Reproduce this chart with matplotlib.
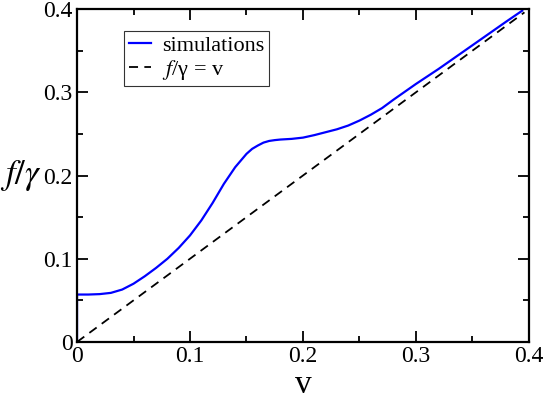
import numpy as np
import matplotlib.pyplot as plt

plt.rcParams['font.family'] = ['Liberation Serif', 'DejaVu Serif']
plt.rcParams['mathtext.fontset'] = 'stix'

# simulation curve
v_sim = [0, 0, 0.01, 0.02, 0.03, 0.04, 0.05, 0.06, 0.07, 0.08, 0.09, 0.10,
         0.11, 0.12, 0.13, 0.14, 0.15, 0.155, 0.16, 0.165, 0.17, 0.175, 0.18,
         0.19, 0.20, 0.21, 0.22, 0.23, 0.24, 0.25, 0.26, 0.27, 0.28, 0.30,
         0.32, 0.34, 0.36, 0.38, 0.394]
f_sim = [0, 0.057, 0.057, 0.0575, 0.059, 0.063, 0.070, 0.079, 0.089, 0.100,
         0.113, 0.128, 0.146, 0.167, 0.190, 0.210, 0.226, 0.232, 0.236, 0.2395,
         0.2415, 0.2425, 0.2432, 0.2440, 0.2455, 0.2485, 0.252, 0.2555, 0.260,
         0.266, 0.273, 0.281, 0.291, 0.310, 0.328, 0.347, 0.366, 0.385, 0.398]

# reference line f/gamma = v
v_ref = [0, 0.396]

fig = plt.figure(figsize=(5.45, 3.99), dpi=100)
ax = fig.add_axes([0.1413, 0.1429, 0.8293, 0.8345])

ax.plot(v_sim, f_sim, color='#0000ff', lw=1.6, label='simulations')
ax.plot(v_ref, v_ref, color='black', lw=1.3, ls=(0, (5, 3.5)),
        label=r'$f$/γ = v')

ax.set_xlim(0, 0.4)
ax.set_ylim(0, 0.4)
ticks = [0, 0.1, 0.2, 0.3, 0.4]
labels = ['0', '0.1', '0.2', '0.3', '0.4']
ax.set_xticks(ticks)
ax.set_xticklabels(labels)
ax.set_yticks(ticks)
ax.set_yticklabels(labels)
ax.set_xticks(np.arange(0.05, 0.4, 0.1), minor=True)
ax.set_yticks(np.arange(0.05, 0.4, 0.1), minor=True)
ax.tick_params(which='both', direction='in', top=True, right=True,
               labelsize=17, width=1.3)
ax.tick_params(which='major', length=8, pad=3)
ax.tick_params(which='minor', length=4)
for s in ax.spines.values():
    s.set_linewidth(1.6)

ax.set_xlabel('v', fontsize=24, labelpad=2)
ax.set_ylabel(r'$f/\gamma$', fontsize=25, rotation=0)
ax.yaxis.label.set_va('center')
ax.yaxis.set_label_coords(-0.125, 0.5)

leg = ax.legend(loc='upper left', bbox_to_anchor=(0.105, 0.935), fontsize=16,
                frameon=True, fancybox=False, edgecolor='black',
                handlelength=1.0, handletextpad=0.5, borderpad=0.2,
                labelspacing=0.1, borderaxespad=0)
leg.get_frame().set_linewidth(0.8)

fig.savefig('out.png', dpi=100)
